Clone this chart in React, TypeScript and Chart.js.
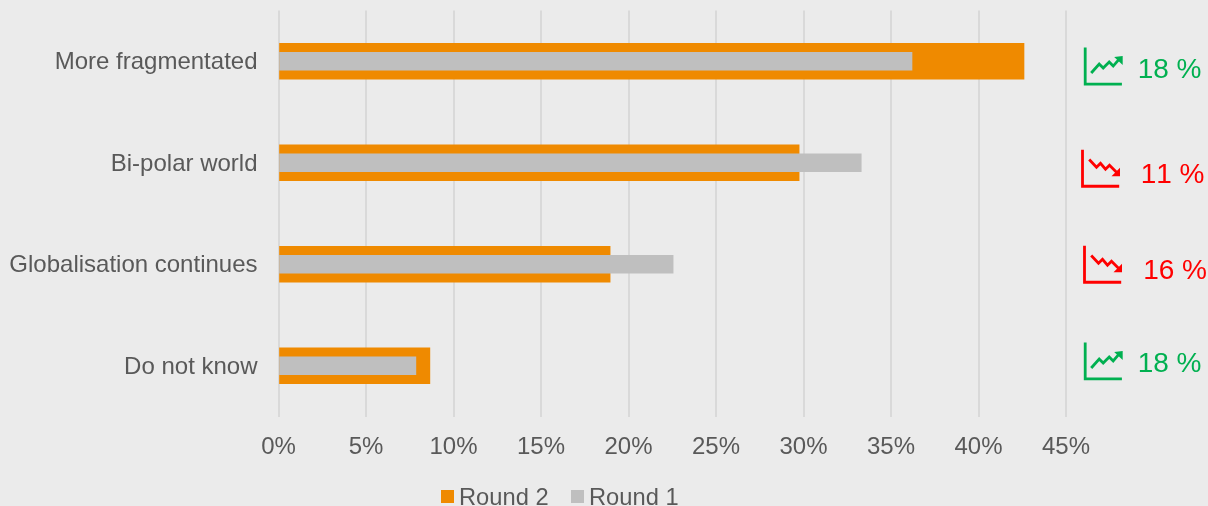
import React, { useEffect, useRef } from "react";
import { Chart, registerables } from "chart.js";

Chart.register(...registerables);

const categories = ["More fragmentated", "Bi-polar world", "Globalisation continues", "Do not know"];
const round2 = [42.6, 29.75, 18.95, 8.65];
const round1 = [36.2, 33.3, 22.55, 7.85];
const trendLabels = ["18 %", "11 %", "16 %", "18 %"];
const trendUp = [true, false, false, true];
const xTicks = [0, 5, 10, 15, 20, 25, 30, 35, 40, 45];

// Layout of the side annotations, relative to the category centre
const iconX = [1085.2, 1082.5, 1084.5, 1085.2];
const iconBaseDy = [22.8, 23.5, 18, 13.2];
const labelX = [1137.7, 1140.7, 1143.2, 1137.7];
const labelBaseDy = [16.75, 20.25, 14.75, 6.25];

const FONT = '"Liberation Sans", Arial, sans-serif';
const GREY = "#595959";
const ORANGE = "#EF8A00";
const SILVER = "#BFBFBF";
const GREEN = "#00B050";
const RED = "#FF0000";

const upPath = [[6, -11], [14, -20], [18, -16], [24, -22], [28, -18], [34, -25]];
const upHead = [[37.5, -28], [29, -27], [37.5, -19]];
const downPath = [[6.7, -26.7], [14, -19], [18, -23], [23, -17], [27, -21], [34, -14]];
const downHead = [[37.5, -10], [37.5, -18.5], [29, -10]];

const sidePlugin = {
  id: "side",
  beforeDraw(chart: any) {
    // Centre the category labels on their cap height, as in the reference
    chart.scales.y.getLabelItems().forEach((item: any) => {
      const [x, y] = item.options.translation;
      item.options.translation = [x, y + 1.5];
    });
  },
  afterDraw(chart: any) {
    const { ctx, scales } = chart;
    ctx.save();
    categories.forEach((_, i) => {
      const cy = scales.y.getPixelForValue(i);
      const color = trendUp[i] ? GREEN : RED;
      const x0 = iconX[i];
      const y0 = cy + iconBaseDy[i];
      ctx.strokeStyle = color;
      ctx.fillStyle = color;
      ctx.lineWidth = 2.8;
      ctx.beginPath();
      ctx.moveTo(x0, y0 - 36.5);
      ctx.lineTo(x0, y0);
      ctx.lineTo(x0 + 36.7, y0);
      ctx.stroke();
      const path = trendUp[i] ? upPath : downPath;
      const head = trendUp[i] ? upHead : downHead;
      ctx.beginPath();
      path.forEach(([px, py], k) => (k ? ctx.lineTo(x0 + px, y0 + py) : ctx.moveTo(x0 + px, y0 + py)));
      ctx.stroke();
      ctx.beginPath();
      head.forEach(([px, py], k) => (k ? ctx.lineTo(x0 + px, y0 + py) : ctx.moveTo(x0 + px, y0 + py)));
      ctx.closePath();
      ctx.fill();
      ctx.font = `28px ${FONT}`;
      ctx.fontKerning = "none";
      ctx.textAlign = "left";
      ctx.textBaseline = "alphabetic";
      ctx.fillText(trendLabels[i], labelX[i], cy + labelBaseDy[i]);
    });

    // Legend with the reference's tight swatch-to-text gap
    const swatchX = [441, 571];
    chart.data.datasets.forEach((ds: any, i: number) => {
      ctx.fillStyle = ds.backgroundColor;
      ctx.fillRect(swatchX[i], 490, 13, 13);
      ctx.fillStyle = GREY;
      ctx.font = `23.7px ${FONT}`;
      ctx.fillText(ds.label, swatchX[i] + 18, 505);
    });
    ctx.restore();
  },
};

export default function App() {
  const ref = useRef<HTMLCanvasElement>(null);
  useEffect(() => {
    document.body.style.margin = "0";
    document.body.style.background = "#EBEBEB";
    const chart = new Chart(ref.current!, {
      type: "bar",
      data: {
        labels: categories,
        datasets: [
          { label: "Round 2", data: round2, backgroundColor: ORANGE, barThickness: 36, order: 2, grouped: false },
          { label: "Round 1", data: round1, backgroundColor: SILVER, barThickness: 18, order: 1, grouped: false },
        ],
      },
      plugins: [sidePlugin],
      options: {
        indexAxis: "y",
        animation: false,
        responsive: false,
        layout: { padding: { top: 10.5, right: 142, bottom: 0, left: 0 } },
        plugins: { legend: { display: false }, tooltip: { enabled: false } },
        scales: {
          x: {
            min: 0,
            max: 45,
            afterBuildTicks(axis: any) {
              axis.ticks = xTicks.map((value) => ({ value }));
            },
            afterFit(axis: any) {
              axis.height = 89.5;
              axis.paddingLeft = 0;
              axis.paddingRight = 0;
            },
            grid: { color: "#D9D9D9", lineWidth: 2, drawTicks: false },
            border: { display: false },
            ticks: {
              padding: 16,
              maxRotation: 0,
              color: GREY,
              font: { family: FONT, size: 24 },
              callback: (v: any) => `${v}%`,
            },
          },
          y: {
            afterFit(axis: any) {
              axis.width = 278.5;
              axis.paddingTop = 0;
              axis.paddingBottom = 0;
            },
            grid: { display: false, drawTicks: false },
            border: { display: false },
            ticks: { padding: 21, color: GREY, font: { family: FONT, size: 24 } },
          },
        },
      },
    } as any);
    return () => chart.destroy();
  }, []);
  return <canvas ref={ref} width={1208} height={506} style={{ display: "block", width: 1208, height: 506 }} />;
}
